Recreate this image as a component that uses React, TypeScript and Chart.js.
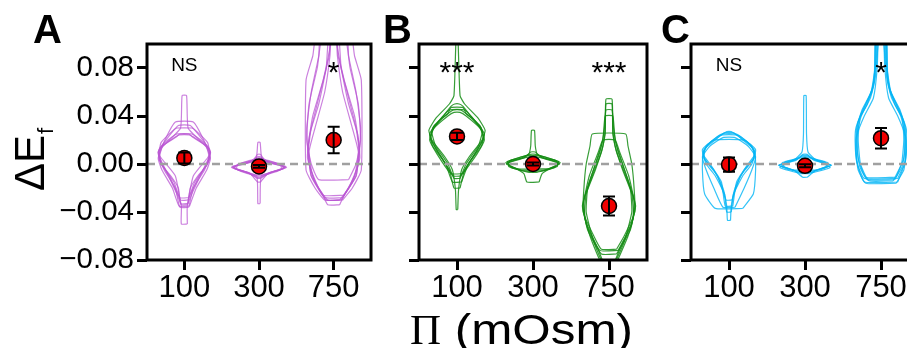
import React, { useEffect, useRef } from "react";
import { Chart, registerables } from "chart.js";
Chart.register(...registerables);

const categories = ["100", "300", "750"];
const yTickValues = [-0.08, -0.04, 0, 0.04, 0.08];
const yTickLabels = ["\u22120.08", "\u22120.04", "0.00", "0.04", "0.08"];
const yMin = -0.08;
const yMax = 0.1;
const xLabelPi = "\u03A0";
const xLabelRest = " (mOsm)";
const yLabelMain = "\u0394E";
const yLabelSub = "f";

// Means and error bars (SEM) per osmolarity
const meansA = [0.005, -0.002, 0.02];
const errA = [0.0045, 0.0012, 0.011];
const meansB = [0.023, 0.0, -0.035];
const errB = [0.003, 0.0012, 0.008];
const meansC = [-0.0005, -0.0015, 0.0215];
const errC = [0.006, 0.0012, 0.0085];

const sigA = ["NS", "", "*"];
const sigB = ["***", "", "***"];
const sigC = ["NS", "", "*"];
const sigLevel = 0.083;

// Violin profiles: [value, half-width in category units], bottom to top
const violinsA100 = [
  [[-0.035, 0.07], [-0.02, 0.16], [-0.005, 0.3], [0.005, 0.35], [0.02, 0.26], [0.035, 0.12]],
  [[-0.036, 0.06], [-0.02, 0.12], [-0.005, 0.27], [0.008, 0.34], [0.018, 0.31], [0.028, 0.15], [0.03, 0.1]],
  [[-0.05, 0.04], [-0.035, 0.04], [-0.025, 0.1], [-0.005, 0.25], [0.006, 0.33], [0.015, 0.29], [0.022, 0.12], [0.025, 0.06]],
  [[-0.03, 0.05], [-0.015, 0.14], [0.0, 0.31], [0.01, 0.35], [0.02, 0.2], [0.03, 0.05], [0.057, 0.03]],
  [[-0.033, 0.05], [-0.02, 0.08], [-0.01, 0.18], [0.0, 0.31], [0.012, 0.34], [0.02, 0.22], [0.025, 0.1]],
  [[-0.028, 0.06], [-0.01, 0.2], [0.004, 0.34], [0.014, 0.31], [0.024, 0.08]],
  [[-0.034, 0.04], [-0.01, 0.12], [0.005, 0.31], [0.01, 0.35], [0.018, 0.27], [0.032, 0.08]],
];
const violinsA300 = [
  [[-0.033, 0.015], [-0.01, 0.03], [-0.006, 0.2], [-0.003, 0.37], [0.0, 0.2], [0.004, 0.04], [0.018, 0.015]],
  [[-0.012, 0.02], [-0.007, 0.15], [-0.004, 0.33], [-0.001, 0.3], [0.002, 0.12], [0.006, 0.02]],
  [[-0.01, 0.03], [-0.006, 0.25], [-0.002, 0.36], [0.001, 0.15], [0.005, 0.03]],
  [[-0.015, 0.02], [-0.008, 0.12], [-0.004, 0.3], [0.0, 0.28], [0.003, 0.08], [0.008, 0.02]],
  [[-0.009, 0.05], [-0.005, 0.28], [-0.002, 0.34], [0.002, 0.06]],
  [[-0.011, 0.03], [-0.006, 0.2], [-0.003, 0.35], [0.001, 0.22], [0.004, 0.04]],
];
const violinsA750 = [
  [[-0.03, 0.12], [-0.02, 0.25], [-0.005, 0.37], [0.07, 0.37], [0.09, 0.28], [0.11, 0.22]],
  [[-0.034, 0.08], [-0.025, 0.15], [-0.01, 0.3], [0.01, 0.34], [0.03, 0.3], [0.06, 0.18], [0.09, 0.06], [0.11, 0.04]],
  [[-0.013, 0.2], [0.0, 0.3], [0.02, 0.36], [0.05, 0.33], [0.08, 0.22], [0.11, 0.14]],
  [[-0.026, 0.14], [-0.01, 0.28], [0.01, 0.33], [0.03, 0.25], [0.06, 0.12], [0.09, 0.05], [0.11, 0.03]],
  [[-0.03, 0.1], [-0.015, 0.25], [0.005, 0.35], [0.025, 0.32], [0.05, 0.2], [0.08, 0.1], [0.11, 0.06]],
  [[-0.028, 0.12], [-0.01, 0.3], [0.015, 0.34], [0.04, 0.28], [0.07, 0.14], [0.1, 0.04], [0.11, 0.03]],
  [[-0.03, 0.08], [-0.02, 0.2], [0.0, 0.33], [0.03, 0.36], [0.06, 0.3], [0.09, 0.2], [0.11, 0.17]],
];
const violinsB100 = [
  [[-0.038, 0.01], [-0.022, 0.02], [-0.005, 0.06], [0.005, 0.15], [0.02, 0.33], [0.028, 0.37], [0.038, 0.28], [0.05, 0.1], [0.057, 0.04], [0.11, 0.01]],
  [[-0.02, 0.04], [-0.005, 0.1], [0.01, 0.25], [0.022, 0.35], [0.032, 0.3], [0.042, 0.12], [0.047, 0.08]],
  [[-0.015, 0.06], [0.0, 0.15], [0.015, 0.32], [0.025, 0.36], [0.035, 0.25], [0.045, 0.1]],
  [[-0.01, 0.05], [0.005, 0.2], [0.02, 0.34], [0.03, 0.32], [0.04, 0.18], [0.048, 0.08], [0.05, 0.03]],
  [[-0.012, 0.04], [0.0, 0.12], [0.015, 0.28], [0.027, 0.33], [0.038, 0.2], [0.045, 0.05]],
  [[-0.008, 0.08], [0.008, 0.26], [0.02, 0.36], [0.03, 0.3], [0.04, 0.12], [0.043, 0.04]],
];
const violinsB300 = [
  [[-0.015, 0.08], [-0.008, 0.12], [-0.003, 0.25], [0.001, 0.36], [0.004, 0.25], [0.008, 0.06], [0.015, 0.03], [0.028, 0.02]],
  [[-0.005, 0.15], [-0.002, 0.3], [0.002, 0.34], [0.005, 0.15], [0.008, 0.04]],
  [[-0.006, 0.1], [-0.002, 0.32], [0.003, 0.3], [0.007, 0.08]],
  [[-0.004, 0.2], [0.0, 0.35], [0.003, 0.25], [0.006, 0.05]],
  [[-0.007, 0.05], [-0.003, 0.28], [0.001, 0.33], [0.005, 0.12], [0.01, 0.03]],
];
const violinsB750 = [
  [[-0.071, 0.1], [-0.06, 0.2], [-0.04, 0.34], [-0.02, 0.33], [0.0, 0.3], [0.015, 0.25], [0.025, 0.22]],
  [[-0.085, 0.05], [-0.07, 0.15], [-0.045, 0.32], [-0.025, 0.3], [-0.005, 0.18], [0.015, 0.08], [0.03, 0.05], [0.054, 0.04]],
  [[-0.085, 0.08], [-0.06, 0.25], [-0.035, 0.35], [-0.015, 0.26], [0.01, 0.12], [0.03, 0.06], [0.045, 0.04]],
  [[-0.072, 0.12], [-0.05, 0.3], [-0.03, 0.33], [-0.01, 0.22], [0.01, 0.1], [0.025, 0.05], [0.05, 0.04]],
  [[-0.075, 0.1], [-0.055, 0.28], [-0.035, 0.34], [-0.01, 0.26], [0.01, 0.14], [0.02, 0.08]],
  [[-0.085, 0.06], [-0.065, 0.2], [-0.04, 0.3], [-0.02, 0.28], [0.0, 0.18], [0.02, 0.08], [0.04, 0.05]],
];
const violinsC100 = [
  [[-0.037, 0.18], [-0.025, 0.32], [-0.005, 0.35], [0.01, 0.34], [0.018, 0.25], [0.025, 0.1]],
  [[-0.047, 0.02], [-0.035, 0.03], [-0.02, 0.08], [-0.005, 0.2], [0.005, 0.33], [0.015, 0.3], [0.022, 0.15], [0.027, 0.03]],
  [[-0.04, 0.03], [-0.025, 0.06], [-0.01, 0.18], [0.0, 0.3], [0.012, 0.35], [0.02, 0.2]],
  [[-0.035, 0.05], [-0.015, 0.1], [0.0, 0.25], [0.008, 0.34], [0.016, 0.28], [0.024, 0.12]],
  [[-0.03, 0.04], [-0.01, 0.15], [0.004, 0.32], [0.012, 0.33], [0.02, 0.18], [0.026, 0.06]],
  [[-0.036, 0.08], [-0.02, 0.2], [-0.005, 0.3], [0.006, 0.35], [0.015, 0.25], [0.022, 0.08]],
];
const violinsC300 = [
  [[-0.011, 0.03], [-0.005, 0.15], [-0.001, 0.35], [0.003, 0.15], [0.01, 0.04], [0.025, 0.02], [0.057, 0.015]],
  [[-0.006, 0.1], [-0.002, 0.3], [0.001, 0.3], [0.004, 0.1], [0.008, 0.03]],
  [[-0.008, 0.05], [-0.003, 0.33], [0.002, 0.2], [0.006, 0.05]],
  [[-0.005, 0.2], [-0.001, 0.34], [0.003, 0.12], [0.007, 0.04]],
  [[-0.007, 0.08], [-0.002, 0.28], [0.002, 0.26], [0.005, 0.06]],
];
const violinsC750 = [
  [[-0.016, 0.2], [-0.005, 0.3], [0.01, 0.33], [0.03, 0.32], [0.045, 0.25], [0.06, 0.13], [0.08, 0.08], [0.11, 0.06]],
  [[-0.015, 0.22], [0.0, 0.31], [0.02, 0.33], [0.04, 0.26], [0.055, 0.14], [0.07, 0.08], [0.1, 0.04], [0.11, 0.04]],
  [[-0.013, 0.18], [-0.002, 0.28], [0.015, 0.32], [0.035, 0.3], [0.05, 0.2], [0.065, 0.1], [0.09, 0.06], [0.11, 0.05]],
  [[-0.011, 0.2], [0.005, 0.3], [0.025, 0.31], [0.04, 0.22], [0.055, 0.1], [0.08, 0.05], [0.11, 0.03]],
  [[-0.014, 0.16], [0.0, 0.27], [0.02, 0.3], [0.038, 0.28], [0.05, 0.18], [0.07, 0.09], [0.11, 0.07]],
  [[-0.012, 0.22], [0.002, 0.32], [0.018, 0.34], [0.03, 0.33], [0.045, 0.24], [0.06, 0.12], [0.085, 0.07], [0.11, 0.06]],
];

const violinColorA = "rgba(186, 85, 211, 0.75)";
const violinColorB = "rgba(20, 140, 20, 0.85)";
const violinColorC = "rgba(0, 180, 245, 0.8)";

const SANS = "'Liberation Sans', Arial, sans-serif";
const SERIF = "'Liberation Serif', 'Times New Roman', serif";

type Panel = {
  letter: string;
  groups: number[][][][];
  color: string;
  means: number[];
  errs: number[];
  sig: string[];
  left: number;
  width: number;
  yAxisWidth: number;
  padRight: number;
  showYLabels: boolean;
  letterX: number;
  showXTitle: boolean;
};

const panels: Panel[] = [
  { letter: "A", groups: [violinsA100, violinsA300, violinsA750], color: violinColorA, means: meansA, errs: errA, sig: sigA, left: 0, width: 380, yAxisWidth: 147, padRight: 4, showYLabels: true, letterX: 33, showXTitle: false },
  { letter: "B", groups: [violinsB100, violinsB300, violinsB750], color: violinColorB, means: meansB, errs: errB, sig: sigB, left: 370, width: 290, yAxisWidth: 49, padRight: 13, showYLabels: false, letterX: 13, showXTitle: true },
  { letter: "C", groups: [violinsC100, violinsC300, violinsC750], color: violinColorC, means: meansC, errs: errC, sig: sigC, left: 640, width: 300, yAxisWidth: 51, padRight: 21, showYLabels: false, letterX: 21, showXTitle: false },
];

function violinPolygon(center: number, profile: number[][]) {
  const right = profile.map(([v, w]) => ({ x: center + w, y: v }));
  const left = profile.slice().reverse().map(([v, w]) => ({ x: center - w, y: v }));
  const pts = right.concat(left);
  pts.push(pts[0]);
  return pts;
}

function buildConfig(p: Panel): any {
  const datasets: any[] = [];
  datasets.push({
    type: "scatter",
    data: p.means.map((m, i) => ({ x: i, y: m })),
    pointRadius: 7.5,
    pointBackgroundColor: "#f00000",
    pointBorderColor: "#000",
    pointBorderWidth: 1.5,
    order: 0,
  });
  datasets.push({
    type: "line",
    data: [{ x: -0.5, y: 0 }, { x: 2.5, y: 0 }],
    borderColor: "#a0a0a0",
    borderWidth: 2.6,
    borderDash: [8, 5],
    pointRadius: 0,
    fill: false,
    order: 1,
  });
  p.groups.forEach((group, gi) => {
    group.forEach((profile) => {
      datasets.push({
        type: "line",
        data: violinPolygon(gi, profile),
        borderColor: p.color,
        borderWidth: 1.2,
        pointRadius: 0,
        fill: false,
        tension: 0.15,
        order: 2,
      });
    });
  });

  const decor = {
    id: "decor" + p.letter,
    afterDatasetsDraw(chart: any) {
      const ctx = chart.ctx;
      const xs = chart.scales.x;
      const ys = chart.scales.y;
      const ca = chart.chartArea;
      // error bars
      ctx.save();
      ctx.strokeStyle = "#000";
      ctx.lineWidth = 2;
      p.means.forEach((m, i) => {
        const x = xs.getPixelForValue(i);
        const y1 = ys.getPixelForValue(m + p.errs[i]);
        const y2 = ys.getPixelForValue(m - p.errs[i]);
        ctx.beginPath();
        ctx.moveTo(x, y1);
        ctx.lineTo(x, y2);
        ctx.moveTo(x - 6, y1);
        ctx.lineTo(x + 6, y1);
        ctx.moveTo(x - 6, y2);
        ctx.lineTo(x + 6, y2);
        ctx.stroke();
      });
      // significance labels
      ctx.fillStyle = "#000";
      ctx.textAlign = "center";
      ctx.textBaseline = "alphabetic";
      p.sig.forEach((s, i) => {
        if (!s) return;
        const x = xs.getPixelForValue(i);
        const y = ys.getPixelForValue(sigLevel);
        if (s === "NS") {
          ctx.font = `19px ${SANS}`;
          ctx.fillText(s, x, y + 7);
        } else {
          ctx.font = `30px ${SANS}`;
          ctx.fillText(s, x, y + 18);
        }
      });
      ctx.restore();
      // frame
      ctx.save();
      ctx.strokeStyle = "#000";
      ctx.lineWidth = 3;
      ctx.strokeRect(ca.left, ca.top, ca.right - ca.left, ca.bottom - ca.top);
      ctx.restore();
    },
    afterDraw(chart: any) {
      const ctx = chart.ctx;
      ctx.save();
      ctx.fillStyle = "#000";
      ctx.textAlign = "left";
      ctx.textBaseline = "alphabetic";
      ctx.font = `bold 40px ${SANS}`;
      ctx.fillText(p.letter, p.letterX, 43);
      if (p.showYLabels) {
        ctx.save();
        ctx.translate(44, 191);
        ctx.rotate(-Math.PI / 2);
        ctx.font = `42px ${SANS}`;
        ctx.fillText(yLabelMain, 0, 0);
        const w = ctx.measureText(yLabelMain).width;
        ctx.font = `22px ${SANS}`;
        ctx.fillText(yLabelSub, w + 1, 9);
        ctx.restore();
      }
      if (p.showXTitle) {
        const startX = 410 - p.left;
        const baseY = 344;
        ctx.font = `43px ${SERIF}`;
        ctx.fillText(xLabelPi, startX, baseY);
        const wPi = ctx.measureText(xLabelPi).width;
        ctx.font = `42px ${SANS}`;
        const wr = ctx.measureText(xLabelRest).width;
        const target = 633 - p.left - (startX + wPi);
        ctx.save();
        ctx.translate(startX + wPi, baseY);
        ctx.scale(target / wr, 1);
        ctx.fillText(xLabelRest, 0, 0);
        ctx.restore();
      }
      ctx.restore();
    },
  };

  return {
    type: "line",
    data: { datasets },
    plugins: [decor],
    options: {
      animation: false,
      responsive: false,
      maintainAspectRatio: false,
      events: [],
      layout: { padding: { top: 44, right: p.padRight, left: 0, bottom: 0 } },
      plugins: { legend: { display: false }, tooltip: { enabled: false }, title: { display: false } },
      scales: {
        x: {
          type: "linear",
          min: -0.5,
          max: 2.5,
          afterBuildTicks: (s: any) => {
            s.ticks = categories.map((_, i) => ({ value: i }));
          },
          afterFit: (s: any) => {
            s.height = 88;
          },
          ticks: {
            autoSkip: false,
            maxRotation: 0,
            padding: 0,
            color: "#000",
            font: { family: SANS, size: 31 },
            callback: (_v: any, i: number) => categories[i],
          },
          grid: { drawOnChartArea: false, drawTicks: true, tickLength: 10, lineWidth: 3, tickWidth: 3, tickColor: "#000", color: "#000" },
          border: { display: false },
        },
        y: {
          type: "linear",
          min: yMin,
          max: yMax,
          afterBuildTicks: (s: any) => {
            s.ticks = yTickValues.map((v) => ({ value: v }));
          },
          afterFit: (s: any) => {
            s.width = p.yAxisWidth;
          },
          ticks: {
            display: p.showYLabels,
            padding: 3,
            color: "#000",
            font: { family: SANS, size: 29.5 },
            callback: (_v: any, i: number) => yTickLabels[i],
          },
          grid: { drawOnChartArea: false, drawTicks: true, tickLength: 10, lineWidth: 3, tickWidth: 3, tickColor: "#000", color: "#000" },
          border: { display: false },
        },
      },
    },
  };
}

function PanelChart({ panel }: { panel: Panel }) {
  const ref = useRef<HTMLCanvasElement | null>(null);
  useEffect(() => {
    if (!ref.current) return;
    const chart = new Chart(ref.current, buildConfig(panel));
    return () => chart.destroy();
  }, [panel]);
  return (
    <canvas
      ref={ref}
      width={panel.width}
      height={348}
      style={{ position: "absolute", left: panel.left, top: 0, width: panel.width, height: 348 }}
    />
  );
}

export default function App() {
  return (
    <div style={{ position: "fixed", left: 0, top: 0, width: 907, height: 348, overflow: "hidden", background: "#fff" }}>
      {panels.map((p) => (
        <PanelChart key={p.letter} panel={p} />
      ))}
    </div>
  );
}
